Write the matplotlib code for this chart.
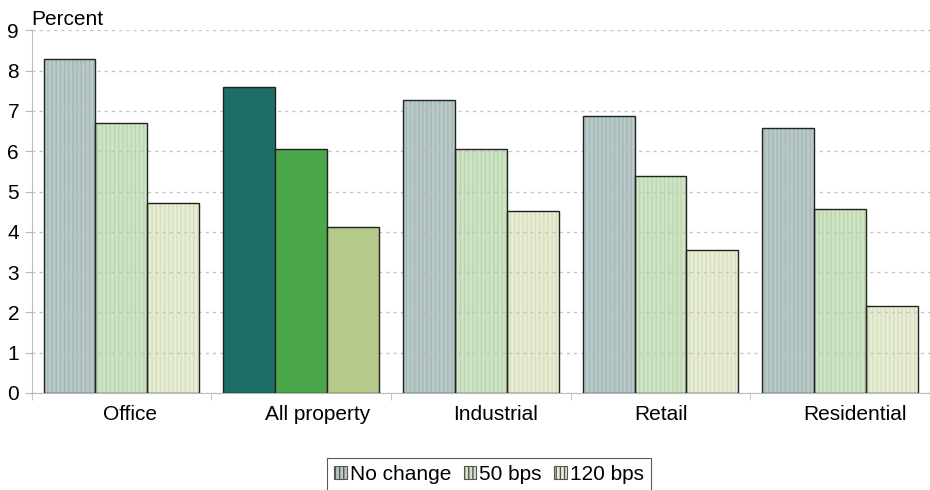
import numpy as np
import matplotlib.pyplot as plt
import matplotlib.transforms as mtransforms
from matplotlib.patches import Patch

plt.rcParams['font.family'] = ['Liberation Sans', 'DejaVu Sans']

# data
categories = ['Office', 'All property', 'Industrial', 'Retail', 'Residential']
series = ['No change', '50 bps', '120 bps']
no_change = [8.3, 7.6, 7.28, 6.88, 6.58]
bps_50 = [6.7, 6.05, 6.05, 5.38, 4.57]
bps_120 = [4.72, 4.12, 4.52, 3.55, 2.15]

# pale textured colours for ordinary groups, solid for the highlighted one
pale = ['#b8c9c8', '#cfe4c6', '#e7ecd4']
hatch_col = ['#a3b8b7', '#b9d7ad', '#d6e0bb']
solid = ['#1b6f65', '#4aa84a', '#b5c98a']
highlight = 1

fig = plt.figure(figsize=(9.3, 4.9), dpi=100)
ax = fig.add_axes([0.034, 0.198, 0.966, 0.74])

x = np.arange(len(categories))
w = 0.289
values = [no_change, bps_50, bps_120]
for i, vals in enumerate(values):
    pos = x - w + i * w
    for j in range(len(categories)):
        if j == highlight:
            ax.bar(pos[j], vals[j], w, color=solid[i], edgecolor='#222222',
                   linewidth=1, zorder=3)
        else:
            ax.bar(pos[j], vals[j], w, color=pale[i], edgecolor=hatch_col[i],
                   hatch='||||', linewidth=0, zorder=2)
            ax.bar(pos[j], vals[j], w, color='none', edgecolor='#222222',
                   linewidth=1, zorder=3)

ax.set_xlim(-0.5, len(categories) - 0.5)
ax.set_ylim(0, 9)
ax.set_yticks(range(10))
ax.yaxis.grid(True, linestyle=(0, (2.2, 3)), color='#c4c4c4', linewidth=1, zorder=2.5)
ax.set_axisbelow(False)

ax.set_xticks(x)
ax.set_xticklabels(categories)
ax.set_xticks(np.arange(len(categories) + 1) - 0.5, minor=True)
ax.tick_params(axis='x', which='major', length=0, pad=9, labelsize=15)
ax.tick_params(axis='x', which='minor', length=5, color='#bbbbbb')
ax.tick_params(axis='y', length=5, color='#bbbbbb', labelsize=15, pad=4)

# labels in the original sit a little right of the group centres
shifts = [9, 16, 15, 1, 15]
for lab, dx in zip(ax.get_xticklabels(), shifts):
    lab.set_transform(lab.get_transform() +
                      mtransforms.ScaledTranslation(dx / 100, 0, fig.dpi_scale_trans))

for s in ['top', 'right']:
    ax.spines[s].set_visible(False)
for s in ['left', 'bottom']:
    ax.spines[s].set_color('#bbbbbb')

fig.text(0.034, 0.948, 'Percent', fontsize=15)

handles = [Patch(facecolor=pale[i], edgecolor='#555555', hatch='||||', linewidth=0.8)
           for i in range(3)]
leg = fig.legend(handles, series, loc='upper center', bbox_to_anchor=(0.526, 0.066),
                 ncol=3, fontsize=15, frameon=True, fancybox=False,
                 handlelength=0.6, handleheight=0.6, handletextpad=0.15,
                 columnspacing=0.6, borderpad=0.35, borderaxespad=0)
leg.get_frame().set_edgecolor('#333333')
leg.get_frame().set_linewidth(0.8)

fig.savefig('out.png', dpi=100)
